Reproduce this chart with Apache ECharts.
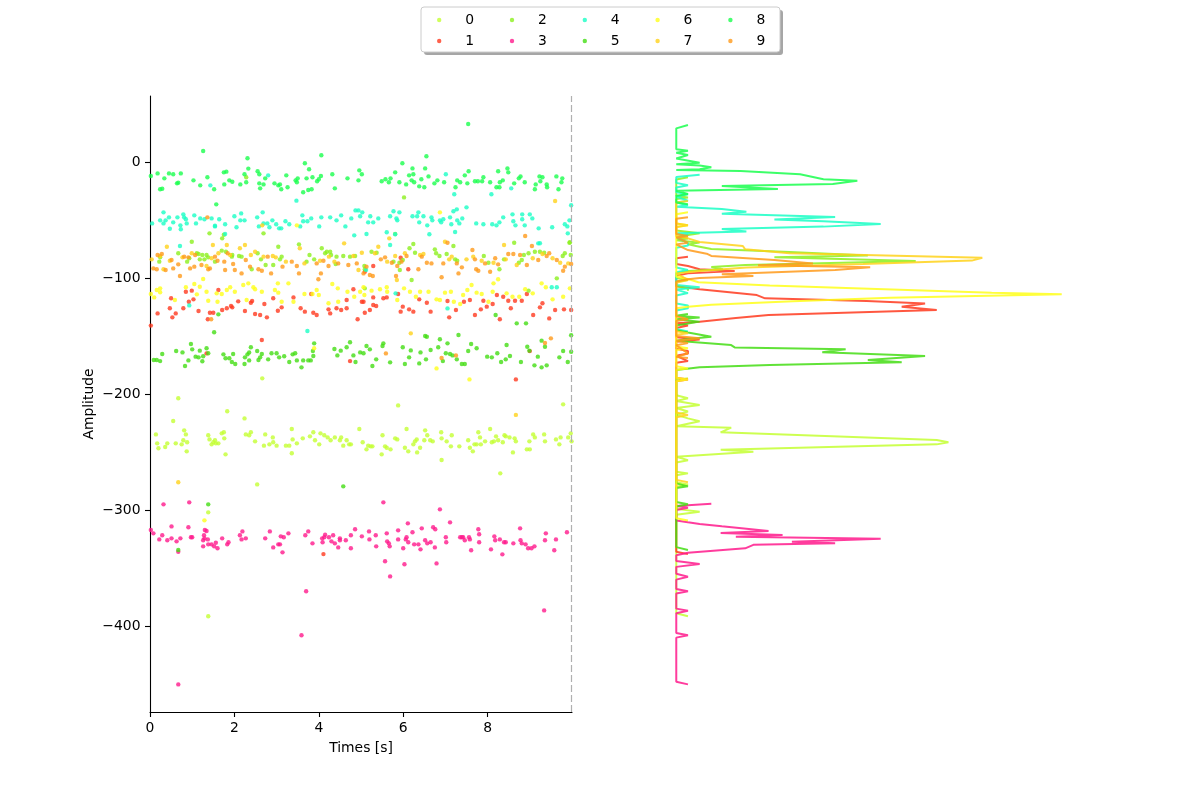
<!DOCTYPE html>
<html>
<head>
<meta charset="utf-8">
<script src="https://cdn.jsdelivr.net/npm/echarts@6/dist/echarts.min.js"></script>
<style>
  html, body { margin: 0; background: #fff; }
  #chart { width: 1200px; height: 800px; }
</style>
</head>
<body>
<div id="chart"></div>
<script>
const FONT = 'DejaVu Sans';

const units = ['0', '1', '2', '3', '4', '5', '6', '7', '8', '9'];
const colors = ['#c4ff33', '#ff3a1f', '#8cf01e', '#ff1a8c', '#1affc6',
                '#44dd14', '#ffff1a', '#ffd21a', '#1aff4d', '#ff9a1a'];

const xTicks = [0, 2, 4, 6, 8];
const yTicks = [0, -100, -200, -300, -400];

// scatter: [time s, amplitude]
const s0 = [[0.14,-234.8],[0.17,-242.5],[0.2,-246.8],[0.36,-245.7],[0.41,-242.5],[0.61,-242.5],[0.75,-243.4],[0.79,-239.9],[0.81,-231.3],[0.85,-234.8],[0.87,-249.4],[0.88,-241.6],[1.38,-235.6],[1.41,-239.1],[1.46,-243.4],[1.5,-241.6],[1.54,-239.9],[1.56,-242.5],[1.62,-242.5],[1.7,-233.9],[1.75,-233],[1.76,-238.2],[1.79,-252],[2.27,-234.8],[2.35,-235.6],[2.39,-233],[2.49,-240.8],[2.7,-244.5],[2.73,-234.8],[2.83,-243.4],[2.91,-237.4],[2.92,-241.6],[3.0,-244.5],[3.22,-244.5],[3.3,-244.5],[3.36,-230.2],[3.36,-251.1],[3.38,-239.1],[3.48,-242.5],[3.62,-238.2],[3.79,-236.5],[3.87,-233],[3.91,-239.9],[4.01,-243.4],[4.04,-233.9],[4.13,-235.6],[4.21,-237.4],[4.28,-239.9],[4.38,-237.4],[4.5,-239.9],[4.53,-237.4],[4.58,-244.5],[4.66,-239.9],[4.72,-243.4],[4.76,-243.4],[4.96,-230.2],[5.04,-241.6],[5.13,-247.7],[5.17,-244.5],[5.23,-245.1],[5.27,-245.1],[5.49,-252],[5.51,-235.6],[5.57,-245.1],[5.61,-246.3],[5.7,-247.7],[5.81,-238.2],[5.86,-239.1],[6.04,-246.3],[6.08,-230.2],[6.12,-249.4],[6.24,-243.4],[6.28,-240.8],[6.32,-239.1],[6.33,-250.3],[6.4,-246.3],[6.5,-239.9],[6.52,-231.3],[6.57,-235.6],[6.64,-239.9],[6.7,-240.8],[6.9,-233],[6.91,-238.2],[7.03,-240.8],[7.13,-245.1],[7.15,-235.6],[7.33,-245.1],[7.54,-239.9],[7.58,-246.3],[7.65,-249.4],[7.69,-243.4],[7.74,-243.4],[7.78,-233],[7.82,-237.4],[7.84,-243.4],[7.94,-240.8],[8.06,-230.2],[8.1,-241.6],[8.15,-240.8],[8.2,-236.5],[8.25,-239.9],[8.36,-241.6],[8.4,-235.6],[8.43,-236.5],[8.52,-237.4],[8.6,-250.3],[8.64,-238.2],[8.67,-240.8],[8.93,-247.7],[8.99,-240.8],[9.0,-247.7],[9.08,-234.8],[9.12,-237.4],[9.34,-234.8],[9.36,-240.8],[9.62,-239.1],[9.7,-243.4],[9.73,-237.4],[9.91,-237.4],[9.97,-233.9],[9.99,-240.8],
  [0.67,-203.7],[0.55,-223.3],[1.83,-214.9],[2.24,-221],[5.88,-209.8],[9.79,-208.9],[8.3,-268.4],[6.91,-256.9],[2.54,-277.9],[1.38,-391.6],[1.38,-302],[2.66,-186.5]];
const s1 = [[0.5,-117.5],[0.47,-126.1],[0.18,-130.5],[0.53,-133.9],[0.61,-130.5],[0.79,-126.1],[0.85,-111.8],[0.92,-120.4],[0.99,-110.9],[1.03,-118.4],[1.15,-128.4],[1.37,-135.6],[1.42,-129.9],[1.5,-129.9],[1.62,-110.3],[1.71,-127.6],[1.82,-126.1],[1.92,-124.1],[1.95,-125.3],[2.09,-120.1],[2.25,-128.4],[2.39,-121.3],[2.42,-119.8],[2.49,-131],[2.61,-131.9],[2.71,-122.4],[2.77,-133.9],[2.92,-117.5],[3.03,-128.2],[3.12,-125.3],[3.4,-116.7],[3.57,-126.1],[3.67,-129],[3.82,-113.8],[3.87,-129.9],[3.95,-131.9],[4.23,-127],[4.27,-130.5],[4.42,-126.1],[4.53,-127.6],[4.66,-126.1],[4.66,-119],[4.82,-109.7],[4.92,-135.6],[5.06,-120.4],
  [5.02,-120.4],[5.09,-129.9],[5.21,-127.6],[5.29,-116.7],[5.29,-123.3],[5.36,-124.1],[5.53,-117.5],[5.61,-116.7],[5.88,-113.8],[5.94,-129],[5.99,-124.7],[6.14,-127],[6.24,-129],[6.38,-118.4],[6.56,-121.3],[6.65,-129],[7.05,-119.8],[7.09,-133.9],[7.25,-127.6],[7.44,-120.4],[7.58,-119],[7.7,-131.9],[7.84,-127],[7.9,-119.6],[7.98,-124.7],[8.12,-122.4],[8.22,-114.7],[8.29,-135.6],[8.37,-116.1],[8.49,-119.6],[8.55,-126.1],[8.65,-119.6],[8.81,-119.6],[8.93,-113.8],[9.08,-131.9],[9.24,-125.3],[9.3,-121.8],[9.46,-134.8],[9.6,-127.6],[9.81,-127],[9.98,-127.6],
  [5.94,-82.5],[6.12,-92.5],[5.29,-89.7],[5.09,-94.6],[8.67,-187.4],[4.11,-338],[4.74,-171.6],[9.0,-163],[1.34,-165],[2.65,-153.4],[0.02,-141]];
const s2 = [[0.24,-82.2],[0.22,-85.9],[0.67,-78.7],[0.88,-85.9],[0.93,-83],[0.99,-68.7],[1.11,-78.7],[1.15,-79.3],[1.18,-83.9],[1.24,-80.2],[1.29,-83.9],[1.34,-80.2],[1.38,-82.2],[1.54,-85.9],[1.7,-76.4],[1.8,-77.3],[1.94,-81.6],[1.95,-80.2],[2.11,-81],[2.17,-81.6],[2.41,-92.5],[2.55,-78.7],[2.63,-83.9],[2.69,-61.5],[2.74,-88.8],[2.92,-88.8],[3.04,-73],[3.08,-83.9],[3.12,-81.6],[3.53,-71],[3.71,-85.9],[3.78,-80.2],[3.89,-83.9],[4.07,-74.4],[4.15,-78.7],[4.19,-77.3],[4.27,-77.3],[4.29,-80.2],[4.4,-87.9],[4.42,-81.6],[4.58,-81],[4.74,-81.6],[4.86,-81],[5.08,-89.7],[1.41,-61.5],[1.75,-62.7],[1.71,-65.8],
  [5.81,-62.1],[5.25,-77.3],[5.37,-78.2],[6.15,-74.4],[6.24,-70.7],[6.28,-78.2],[5.77,-85.9],[5.91,-86.8],[5.99,-84.5],[6.75,-75.3],[6.78,-78.7],[6.86,-81],[7.03,-79.3],[7.19,-72.4],[7.23,-83.9],[7.28,-85.1],[7.91,-81],[8.02,-86.8],[8.28,-92.5],[8.39,-83.9],[8.63,-69.6],[8.74,-86.8],[8.81,-84.5],[8.86,-80.2],[8.97,-78.7],[9.12,-77.3],[9.24,-77.3],[9.34,-78.2],[9.78,-81],[9.83,-78.7],[9.94,-69.6],[9.97,-80.2],[5.09,-92.5],[5.92,-93.1],[6.2,-101.7],[8.97,-110.9],[9.64,-100.3],[5.09,-108.9],
  [6.02,-30.5],[2.28,-13.2],[9.95,-69.2]];
const s3 = [[0.02,-317.2],[0.08,-320.1],[0.22,-325.3],[0.29,-321.8],[0.41,-326.1],[0.51,-314.1],[0.51,-324.4],[0.63,-327],[0.67,-335.9],[0.72,-324.4],[0.91,-314.9],[0.93,-293.4],[0.97,-323.5],[1.0,-323.5],[1.26,-326.1],[1.26,-331.3],[1.28,-321.8],[1.29,-324.4],[1.3,-317.2],[1.34,-318.1],[1.37,-325.3],[1.38,-329.6],[1.46,-329.6],[1.52,-331.3],[1.56,-328.2],[1.6,-333],[1.71,-324.4],[1.83,-329.6],[1.86,-327.8],[2.13,-321.8],[2.17,-325.3],[2.19,-318.4],[2.27,-324.4],[2.73,-324.4],[2.84,-318.4],[2.92,-332.2],[3.04,-329.6],[3.08,-329.6],[3.1,-322.7],[3.14,-336.5],[3.17,-323.5],[3.28,-320.1],[3.59,-408],[3.68,-321.8],[3.7,-370],[3.75,-318.4],[3.85,-328.7],[4.08,-324.4],[4.09,-327.8],[4.13,-323.5],[4.15,-321.3],[4.24,-323.5],[4.3,-327],[4.34,-321.8],[4.38,-328.7],[4.46,-332.2],[4.5,-324.4],[4.5,-326.1],[4.64,-326.1],[4.76,-333],[4.76,-321.8],[4.86,-316.6],[5.02,-322.7],[5.19,-318.4],[5.2,-325.3],[5.35,-321.8],[5.36,-331.3],[5.53,-293.4],[5.57,-344.2],[5.61,-320.1],[5.62,-327],[5.66,-328.7],[5.68,-331.3],[5.69,-357.2],[5.88,-317.5],[5.88,-325.3],[6.0,-333],[6.03,-346.8],[6.06,-325.3],[6.08,-323.5],[6.11,-311.5],[6.12,-327.8],[6.22,-319.2],[6.26,-329.6],[6.36,-329.6],[6.41,-333.9],[6.44,-315.8],[6.52,-326.1],[6.57,-328.7],[6.65,-327.8],[6.71,-314.9],[6.75,-332.2],[6.76,-316.6],[6.79,-346],[6.87,-299.4],[7.01,-323.5],[7.02,-327.8],[7.11,-310.6],[7.35,-323.5],[7.39,-323.5],[7.42,-323.5],[7.46,-326.1],[7.56,-323.5],[7.58,-325.3],[7.61,-334.7],[7.78,-316.6],[7.8,-320.9],[7.8,-327.8],[8.08,-333.9],[8.16,-322.7],[8.18,-326.1],[8.29,-325.3],[8.35,-338.2],[8.39,-327.8],[8.43,-327.8],[8.61,-328.7],[8.77,-315.8],[8.78,-326.1],[8.81,-328.7],[8.9,-329.6],[8.96,-333],[9.04,-333],[9.11,-331.3],[9.34,-386.5],[9.36,-326.1],[9.38,-320.1],[9.58,-334.7],[9.62,-325.3],[9.88,-319.2],[0.67,-450.3],[0.32,-295.1]];
const s4 = [[0.05,-52.9],[0.24,-50.3],[0.32,-43.4],[0.32,-52.9],[0.37,-50.3],[0.45,-47.7],[0.47,-57.5],[0.55,-52],[0.65,-47.7],[0.72,-54.6],[0.79,-45.1],[0.81,-47.7],[0.85,-49.4],[0.87,-52.9],[1.05,-46],[1.09,-52.9],[1.19,-48.6],[1.29,-49.4],[1.43,-20.1],[1.46,-48.6],[1.54,-55.5],[1.64,-49.4],[1.78,-53.7],[2.0,-46.8],[2.05,-56.3],[2.14,-50.3],[2.16,-44.3],[2.24,-50.3],[2.54,-47.7],[2.58,-55.5],[2.67,-43.4],[2.69,-52.9],[2.78,-52.9],[2.83,-56.3],[2.8,-11.5],[2.9,-50.3],[2.99,-53.7],[3.06,-57.2],[3.11,-57.2],[3.21,-51.1],[3.3,-53.7],[3.47,-33.3],[3.56,-55.5],[3.61,-46],[3.63,-51.1],[3.73,-51.1],[3.82,-48.6],[4.01,-55.5],[4.06,-47.7],[4.27,-47.7],[4.42,-50.3],[4.53,-46],[4.63,-55.5],[4.77,-48.6],[4.87,-41.7],[4.94,-41.7],[4.98,-46.8],[5.03,-43.4],
  [5.17,-52],[5.22,-46.8],[5.29,-52],[5.41,-48.6],[5.69,-46.8],[5.77,-42.5],[5.84,-48.6],[5.86,-50.3],[5.91,-43.4],[6.22,-46.8],[6.33,-46.8],[6.36,-43.4],[6.38,-52],[6.48,-46.8],[6.57,-54.6],[6.67,-47.7],[6.69,-50.3],[6.87,-50.3],[6.9,-52],[6.95,-49.4],[7.01,-10.6],[7.11,-47.7],[7.14,-53.7],[7.19,-42.5],[7.21,-27.8],[7.27,-40.8],[7.28,-50.3],[7.33,-52.9],[7.4,-48.6],[7.5,-39.1],[7.73,-52.9],[7.9,-53.7],[8.09,-27.8],[8.11,-53.7],[8.21,-54.6],[8.28,-52],[8.37,-47.7],[8.56,-22.7],[8.59,-45.1],[8.61,-51.1],[8.66,-54.6],[8.82,-45.1],[8.82,-49.4],[8.88,-54.6],[9.0,-45.1],[9.06,-48.6],[9.21,-57.2],[9.53,-56.3],[9.83,-53.7],[9.89,-55.5],[9.94,-50.3],[9.98,-37.3],
  [0.73,-58],[1.54,-55],[1.78,-62],[4.84,-63.2],[5.13,-62],[5.61,-60.6],[5.81,-62.3],[6.62,-62.3],[7.23,-60.3],[9.2,-70.1],[9.9,-61.5],[0.71,-72.4],[0.93,-123.6],[3.73,-145.7],[7.05,-126.2],[5.82,-113.2],[5.69,-71.6],[9.24,-70],[9.52,-108],[9.64,-108],[5.12,-93]];
const s5 = [[0.09,-170.7],[0.16,-170.7],[0.24,-171.6],[0.29,-165.5],[0.62,-162.9],[0.77,-164.1],[0.83,-175.9],[0.91,-171],[0.97,-156.9],[1.0,-161.5],[1.08,-167.8],[1.15,-168.4],[1.18,-162.6],[1.24,-171.8],[1.26,-167.5],[1.34,-160.6],[1.38,-164.9],[1.52,-146.8],[1.62,-131.3],[1.74,-165.8],[1.79,-169.2],[1.88,-169.2],[1.94,-172.4],[1.97,-165.5],[2.02,-174.1],[2.24,-174.1],[2.25,-168.4],[2.31,-165.8],[2.35,-164.1],[2.39,-159.7],[2.35,-171],[2.54,-162.9],[2.57,-170.7],[2.61,-168.4],[2.65,-165.5],[2.8,-170.1],[2.88,-164.9],[3.0,-164.9],[3.06,-168.4],[3.18,-167.5],[3.3,-172.4],[3.38,-165.8],[3.44,-164.9],[3.48,-171],[3.59,-177],[3.63,-171],[3.75,-171],[3.81,-171],[3.86,-162.9],[3.87,-167.2],[3.89,-156.3],[4.37,-161.2],[4.44,-166.7],[4.52,-162.6],[4.66,-159.7],[4.74,-155.4],[4.82,-166.7],[4.87,-172.4],[4.98,-164.1],[5.06,-164.9],[5.13,-158.6],[5.21,-161.5],[5.27,-175.9],[5.36,-170.1],[5.51,-158.6],[5.53,-156.3],[5.69,-172.7],[5.99,-159.7],[6.04,-174.1],[6.14,-168.4],[6.18,-162.4],[6.38,-173.6],[6.41,-164.1],[6.54,-170.1],[6.56,-150.6],[6.65,-162.1],[6.83,-159.7],[6.87,-152.8],[6.94,-171.6],[7.01,-164.9],[7.05,-156.3],[7.11,-165.5],[7.17,-166.7],[7.27,-170.1],[7.31,-149.1],[7.39,-174.1],[7.46,-174.1],[7.54,-162.9],[7.61,-156.9],[7.74,-160.6],[7.99,-167.8],[8.1,-168.4],[8.19,-131.9],[8.23,-164.9],[8.32,-172.4],[8.43,-170.1],[8.45,-157.8],[8.53,-167.2],[8.79,-172.4],[8.91,-139.1],[8.94,-159.2],[8.99,-162.6],[9.11,-175.3],[9.19,-167.8],[9.28,-177],[9.28,-154],[9.36,-159.2],[9.4,-175.3],[9.7,-168.4],[9.79,-162.9],[9.9,-172.4],[9.98,-149.4],[9.98,-163.5],
  [0.67,-334.5],[4.58,-279.6],[1.38,-295.1],[8.69,-139.1],[6.52,-150]];
const s6 = [[0.02,-113.8],[0.1,-116.7],[0.16,-110.3],[0.24,-108.9],[0.24,-112.3],[0.59,-119],[0.85,-108],[1.05,-105.2],[1.11,-114.1],[1.18,-107.5],[1.26,-100.9],[1.34,-111.8],[1.38,-119.6],[1.58,-113.2],[1.6,-120.4],[1.7,-113.8],[1.82,-110.3],[1.9,-108],[2.01,-111.8],[2.21,-106],[2.29,-119],[2.33,-104.6],[2.45,-108],[2.49,-109.7],[2.65,-111.8],[2.96,-110.3],[3.03,-104.6],[3.04,-112.6],[3.12,-120.4],[3.28,-104.6],[3.4,-120.4],[3.66,-113.8],[3.85,-113.8],[3.95,-110.3],[4.0,-114.7],[4.23,-121.8],[4.32,-105.2],[4.45,-108.9],[4.46,-120.4],[4.68,-111.8],[4.84,-116.1],[4.98,-111.8],[5.08,-114.7],
  [5.06,-108],[5.25,-110.9],[5.45,-109.7],[5.61,-108],[5.62,-111.8],[5.86,-119],[6.02,-108.9],[6.16,-111.8],[6.3,-116.1],[6.4,-111.8],[6.6,-111.8],[6.79,-118.4],[6.87,-119],[6.99,-112.6],[7.13,-111.8],[7.2,-120.4],[7.35,-122.4],[7.42,-114.7],[7.52,-110.3],[7.62,-106],[7.74,-112.6],[7.86,-113.8],[8.02,-120.4],[8.12,-111.8],[8.14,-104.6],[8.25,-101.1],[8.45,-113.2],[8.59,-116.1],[8.75,-116.1],[8.89,-109.7],[9.07,-113.2],[9.28,-104.6],[9.38,-108],[9.54,-118.4],[9.79,-116.1],[9.95,-108.9],
  [3.48,-54.6],[6.87,-43.4],[7.57,-187.4],[3.89,-160.6],[1.29,-308.9],[6.79,-177.9]];
const s7 = [[0.04,-83.9],[0.24,-81],[0.32,-92.5],[0.4,-73],[0.47,-85.1],[0.77,-82.2],[0.99,-78.7],[1.34,-89.7],[1.46,-83],[1.49,-71.6],[1.62,-78.7],[1.82,-71.6],[1.9,-80.2],[2.13,-74.4],[2.25,-71.6],[2.39,-80.2],[2.49,-77.3],[2.69,-81.6],[2.91,-81],[2.98,-82.2],[3.22,-85.9],[3.55,-74.4],[3.66,-87.4],[4.03,-85.1],[4.24,-81.6],[4.37,-85.9],[4.6,-70.1],[4.82,-81],[4.94,-93.1],
  [5.02,-78.2],[5.33,-78.7],[5.41,-73],[5.62,-85.9],[5.67,-65.8],[5.81,-81],[5.85,-101.7],[6.04,-78.7],[6.4,-80.2],[6.48,-79.3],[6.99,-68.7],[7.09,-83.9],[7.15,-81.6],[7.5,-83.9],[7.66,-81.6],[7.86,-85.1],[8.14,-86.8],[8.39,-71.6],[8.43,-83.9],[8.69,-88.8],[9.07,-83],[9.3,-79.3],[9.54,-83],[9.72,-86.8],[9.91,-87.4],
  [9.6,-33.6],[2.66,-54.6],[0.67,-276],[8.67,-218],[6.18,-147.7]];
const s8 = [[0.02,-12.1],[0.18,-9.8],[0.34,-14.1],[0.45,-9.8],[0.55,-10.6],[0.67,-17.8],[0.64,-18.4],[0.73,-9.8],[0.24,-23.5],[0.29,-23],[1.03,-15.8],[1.19,-20.1],[1.26,9.5],[1.36,-13.2],[1.52,-23.5],[1.57,-36.5],[1.75,-8.9],[1.81,-8.3],[1.76,-19.3],[1.88,-15.8],[1.95,-17],[2.14,-19.3],[2.24,-10.6],[2.28,-17.5],[2.31,3.2],[2.33,-5.7],[2.55,-8],[2.59,-10.6],[2.59,-18.4],[2.61,-22.7],[2.69,-19.3],[2.73,-14.1],[2.95,-18.4],[3.04,-20.1],[3.08,-19.3],[3.11,-23.5],[3.23,-11.5],[3.26,-21.8],[3.45,-15.8],[3.5,-14.1],[3.48,-17.5],[3.63,-26.1],[3.67,-1.1],[3.71,-14.1],[3.77,-6.3],[3.75,-24.1],[3.85,-13.2],[3.83,-23.5],[3.96,-16.6],[4.0,-14.9],[4.05,-12.1],[4.06,5.8],[4.32,-10.6],[4.38,-22.7],[4.68,-14.1],[4.94,-15.8],[4.96,-7.2],[5.02,-10.6],[5.49,-16.6],[5.58,-14.9],[5.66,-17.5],[5.7,-14.1],[5.81,-8.9],[5.91,-17.5],[5.98,-1.1],[6.07,-19.3],[6.14,-11.5],[6.22,-5.5],[6.24,-10.6],[6.2,-15.8],[6.26,-17.5],[6.38,-21],[6.43,-14.9],[6.5,-21.8],[6.52,-5.5],[6.55,4.9],[6.6,-12.4],[6.74,-18.4],[6.81,-15.8],[6.97,-17.5],[7.24,-21.8],[7.28,-15.8],[7.35,-17.5],[7.46,-11.5],[7.52,-18.4],[7.54,32.8],[7.55,-8],[7.7,-16.6],[7.77,-16.6],[7.87,-16.6],[7.9,-13.2],[8.06,-17.5],[8.21,-21.8],[8.25,-8],[8.28,-21.8],[8.29,-17.5],[8.36,-15.8],[8.47,-5.5],[8.49,-8.9],[8.63,-18.4],[8.74,-14.1],[8.78,-12.4],[8.88,-17.5],[9.12,-23.5],[9.14,-19.3],[9.23,-12.4],[9.25,-16.6],[9.3,-13.2],[9.4,-19.3],[9.41,-21.8],[9.63,-12.4],[9.68,-23.5],[9.75,-17.5],[9.77,-14.1]];
const s9 = [[0.08,-91.7],[0.16,-92.5],[0.18,-80.2],[0.28,-79.3],[0.37,-93.1],[0.51,-84.5],[0.55,-91.7],[0.67,-88.2],[0.71,-98.3],[0.81,-81.6],[0.91,-82.2],[0.95,-91.7],[1.05,-90.2],[1.07,-80.2],[1.22,-88.8],[1.38,-92.5],[1.42,-91.7],[1.54,-81.6],[1.6,-85.1],[1.76,-85.9],[1.78,-93.1],[1.84,-78.7],[1.97,-87.9],[2.01,-93.1],[2.17,-96],[2.27,-84.5],[2.37,-90.2],[2.57,-92.5],[2.65,-93.7],[2.79,-81.6],[2.87,-96],[3.14,-90.2],[3.36,-85.9],[3.48,-89.7],[3.53,-96],[3.95,-87.4],[3.99,-101.1],[4.05,-96],[4.11,-85.1],[4.23,-89.7],[4.46,-87.4],[4.7,-88.8],[4.9,-87.4],[5.06,-96],
  [5.13,-90.2],[5.21,-97.4],[5.28,-98.3],[5.47,-83.9],[5.57,-82.2],[5.73,-86.8],[5.83,-98.3],[5.86,-89.7],[5.96,-85.9],[6.08,-81],[6.36,-92.5],[6.44,-81.6],[6.56,-86.8],[6.67,-87.4],[6.91,-99.4],[6.95,-87.4],[7.05,-69.6],[7.27,-87.4],[7.31,-96],[7.39,-90.8],[7.64,-75.9],[7.7,-83.9],[7.73,-92.5],[7.78,-93.7],[7.94,-87.4],[8.06,-94.6],[8.18,-83],[8.25,-88.2],[8.49,-79.3],[8.61,-79.3],[8.77,-80.2],[8.89,-63.8],[8.93,-88.8],[9.05,-72.4],[9.2,-84.5],[9.4,-81],[9.46,-78.7],[9.64,-84.5],[9.79,-93.7],[9.83,-90.2],[9.98,-87.9],
  [1.36,-47.7],[6.91,-169],[5.59,-165],[9.36,-156],[9.5,-152],[7.25,-166.7],[1.45,-135.6]];

// amplitude histograms: [count, amplitude]
const h0 = [[1,-186.5],[0,-188],[0,-201],[1,-203.7],[0,-206],[2,-209.5],[0,-212],[1,-215],[0,-218],[1,-221],[2,-223.5],[0,-227.7],[4.7,-229],[3.8,-233],[22.3,-239.7],[23.3,-241.6],[22.3,-243.4],[3.8,-248],[6.6,-249.7],[0,-254],[1,-257],[0,-259],[0,-267],[1,-268.4],[0,-270],[0,-276],[1,-278],[0,-280],[0,-299],[2,-301.5],[0,-304],[0,-389],[1,-391.6]];
const h1 = [[1,-81.6],[0,-83],[0,-88],[1,-89.7],[2,-92.5],[5,-94],[1,-96],[0,-98],[0,-107],[2,-109.7],[6.9,-114.7],[7.6,-117.5],[16.3,-119.8],[21.3,-122],[19.3,-124.7],[22.3,-127.6],[7.9,-131.9],[5.1,-134.5],[2,-137.6],[0,-139],[1,-141],[0,-143],[0,-151],[2,-153],[0,-155],[0,-161],[1,-163],[1,-165],[0,-167],[1,-171.6],[0,-173],[0,-186],[1,-187.4],[0,-189],[0,-336],[1,-338]];
const h2 = [[1,-13.2],[0,-15],[0,-29],[1,-30.5],[0,-32],[0,-59],[2,-61.5],[1,-63],[0,-64.5],[1,-66],[0,-67.5],[2,-69.5],[1,-71],[2,-73],[3,-75],[9.7,-77.5],[16.4,-80.6],[8.4,-82.2],[20.5,-85.3],[5.9,-88.8],[3,-90.5],[4,-92.5],[1,-94],[0,-96],[0,-100],[1,-101.7],[0,-103],[0,-107],[1,-109],[1,-110.9]];
const h3 = [[3,-294.6],[0,-296.5],[1,-298],[0,-300],[0,-309],[1,-310.6],[2,-312],[3.9,-314],[7.9,-318],[3.8,-319.7],[9.1,-321.6],[5.1,-323],[17.5,-324.7],[9.9,-327.3],[13.6,-328.7],[6.6,-330],[5.9,-333],[1,-336.8],[0,-339],[0,-344],[2,-346.5],[0,-349],[0,-355],[1,-357.5],[0,-360],[0,-368],[1,-370],[0,-372],[0,-385],[1,-386.8],[0,-389],[0,-406],[1,-408],[0,-410],[0,-448],[1,-450.3]];
const h4 = [[2,-11],[0,-13],[0,-18],[1,-20],[0,-22],[0,-26],[1,-27.8],[0,-30],[1,-33.3],[0,-35],[1,-37.3],[0,-38.5],[3.9,-40.5],[6,-42.8],[3.9,-44.5],[13.6,-47.4],[8.4,-49.5],[12.6,-51],[17.5,-53.4],[12.6,-55.7],[3.9,-57.8],[6,-60],[0,-61.5],[1,-63],[0,-65],[1,-70],[1,-72],[0,-74],[0,-91],[1,-93],[0,-95],[0,-106],[2,-108],[0,-110],[1,-113],[0,-115],[0,-122],[1,-123.6],[1,-126],[0,-128],[0,-144],[1,-146]];
const h5 = [[1,-131],[0,-132.5],[2,-134],[0,-135.5],[2,-137.6],[2,-139.1],[0,-141],[0,-145],[1,-147],[3,-150.6],[1,-152.5],[0,-154],[4.7,-157.8],[5,-159.8],[14.5,-161.5],[12.5,-164],[21.3,-167.2],[16.4,-170.7],[19.3,-172.7],[8,-175],[2,-177],[0,-179.3],[0,-277],[1,-279.6],[0,-281],[0,-293],[1,-295.1],[0,-297],[0,-332],[1,-334.5]];
const h6 = [[1,-43.4],[0,-45],[0,-53],[1,-54.6],[0,-56],[0,-99],[1,-100.9],[1.9,-103.7],[8,-106.5],[27,-112.6],[33,-114],[18.3,-117],[10,-120],[3,-123],[1,-124.7],[0,-126],[0,-159],[1,-160.6],[0,-162],[0,-176],[1,-177.9],[0,-179],[0,-186],[1,-187.4],[0,-189],[0,-307],[1,-309]];
const h7 = [[1,-33.6],[0,-35],[0,-53],[1,-54.6],[0,-56],[0,-64],[1,-65.8],[2,-69],[5.7,-72.4],[5.9,-75.3],[9.7,-78.7],[26.2,-82.5],[25.3,-85],[16,-88],[6,-91],[2,-94],[0,-96],[1,-101.7],[0,-104],[0,-146],[1,-147.7],[0,-149],[0,-216],[1,-218],[0,-220],[0,-274],[1,-276]];
const h8 = [[1,31.9],[0,29],[0,11],[1,9.7],[0,8],[1,6],[0,3],[2,-0.6],[0,-2],[2,-3],[3,-4.6],[2,-6.3],[0,-6.9],[5.5,-7.8],[10.6,-10.6],[12.6,-14.9],[15.5,-16.1],[13.4,-19],[3.9,-20.7],[8.7,-23.3],[0,-24.7],[0,-26],[1,-27.5],[0,-29],[0,-35],[1,-36.5]];
const h9 = [[1,-47.6],[0,-49],[0,-62],[1,-63.8],[0,-65],[1,-69.6],[0,-71],[1,-75.9],[2.6,-79],[3,-81],[8.4,-84.5],[11.7,-87.4],[7,-89],[16.6,-90.8],[13.6,-93],[3.9,-96.8],[6.6,-98.3],[2,-100],[1,-101.1],[0,-103],[0,-133],[1,-135.6],[0,-137],[0,-150],[2,-152],[0,-154],[1,-156],[0,-158],[1,-165],[1,-166.7],[0,-168],[1,-169]];

const scatterData = [s0, s1, s2, s3, s4, s5, s6, s7, s8, s9];
const histData = [h0, h1, h2, h3, h4, h5, h6, h7, h8, h9];

const Y_MIN = -474.1, Y_MAX = 56.9;
const txt = { fontFamily: FONT, fontSize: 13.9, color: '#000' };
const minus = v => (v < 0 ? '\u2212' + Math.abs(v) : String(v));

const series = [];
units.forEach((u, i) => {
  series.push({
    type: 'scatter', name: u, xAxisIndex: 0, yAxisIndex: 0,
    data: scatterData[i], symbol: 'circle', symbolSize: 4.4,
    itemStyle: { color: colors[i] }
  });
});
units.forEach((u, i) => {
  series.push({
    type: 'line', name: 'h' + u, xAxisIndex: 1, yAxisIndex: 1,
    data: histData[i], showSymbol: false, symbol: 'none',
    lineStyle: { color: colors[i], width: 2, opacity: 0.85 }
  });
});
// end-of-recording marker
series[0].markLine = {
  silent: true, symbol: 'none', label: { show: false },
  lineStyle: { type: [7, 3], color: '#b0b0b0', width: 1.2 },
  data: [{ xAxis: 9.99 }]
};

const legendBase = {
  orient: 'horizontal', left: 437, padding: 0, itemWidth: 10, itemHeight: 4.4,
  itemGap: 34.6, icon: 'circle', selectedMode: false,
  textStyle: { ...txt, padding: [0, 0, 0, 16], width: 10, lineHeight: 16 }
};

const chart = echarts.init(document.getElementById('chart'));
chart.setOption({
  animation: false,
  backgroundColor: '#fff',
  textStyle: { fontFamily: FONT },
  graphic: [
    { type: 'rect', z: 0, shape: { x: 424, y: 10, width: 359, height: 45, r: 3 }, style: { fill: '#a6a6a6' } },
    { type: 'rect', z: 1, shape: { x: 421, y: 7, width: 359, height: 45, r: 3 }, style: { fill: '#fff', stroke: '#cccccc', lineWidth: 1 } }
  ],
  legend: [
    { ...legendBase, top: 12, data: ['0', '2', '4', '6', '8'] },
    { ...legendBase, top: 33, data: ['1', '3', '5', '7', '9'] }
  ],
  grid: [
    { left: 150, top: 96, width: 422, height: 616 },
    { left: 657, top: 96, width: 424, height: 616 }
  ],
  xAxis: [
    {
      gridIndex: 0, type: 'value', min: 0, max: 10,
      name: 'Times [s]', nameLocation: 'middle', nameGap: 29, nameTextStyle: txt,
      axisLine: { show: true, onZero: false, lineStyle: { color: '#000', width: 1.1 } },
      axisTick: { show: true, customValues: xTicks, length: 5, lineStyle: { color: '#000', width: 1.1 } },
      axisLabel: { customValues: xTicks, margin: 9, ...txt },
      splitLine: { show: false }
    },
    { gridIndex: 1, type: 'value', min: -1.65, max: 34.65, show: false }
  ],
  yAxis: [
    {
      gridIndex: 0, type: 'value', min: Y_MIN, max: Y_MAX,
      name: 'Amplitude', nameLocation: 'middle', nameGap: 54, nameRotate: 90, nameTextStyle: txt,
      axisLine: { show: true, onZero: false, lineStyle: { color: '#000', width: 1.1 } },
      axisTick: { show: true, customValues: yTicks, length: 5, lineStyle: { color: '#000', width: 1.1 } },
      axisLabel: { customValues: yTicks, margin: 9.5, formatter: minus, ...txt },
      splitLine: { show: false }
    },
    { gridIndex: 1, type: 'value', min: Y_MIN, max: Y_MAX, show: false }
  ],
  series: series
});
</script>
</body>
</html>
